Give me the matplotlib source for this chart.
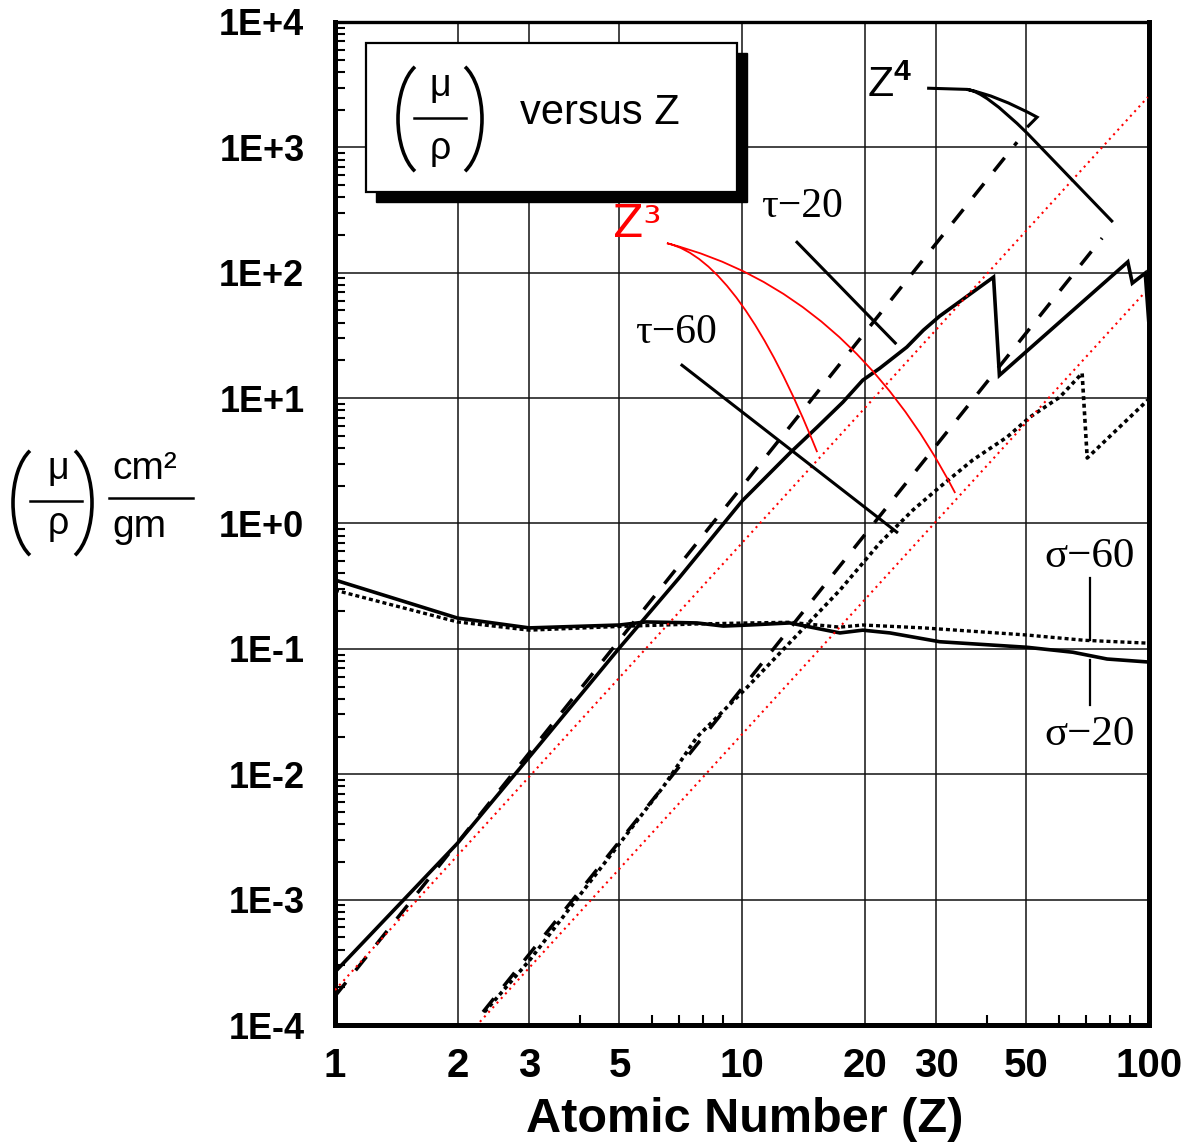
import matplotlib
matplotlib.use("Agg")
import matplotlib.pyplot as plt
import numpy as np
from matplotlib.patches import Rectangle, PathPatch, Arc
from matplotlib.path import Path
from matplotlib.lines import Line2D
from matplotlib.ticker import FixedLocator, FixedFormatter, LogLocator, NullFormatter

plt.rcParams['font.family'] = ['Liberation Sans', 'DejaVu Sans']
plt.rcParams['mathtext.fontset'] = 'custom'
plt.rcParams['mathtext.rm'] = 'Liberation Sans'
plt.rcParams['mathtext.it'] = 'Liberation Sans:italic'
plt.rcParams['mathtext.bf'] = 'Liberation Sans:bold'

# ---------------- data ----------------
# photoelectric, 20 keV (solid)
tau20_Z = [1, 2, 3, 4.4, 5, 7, 10, 13.1, 15.3, 17.7, 19.8, 21.8, 25.4, 27.9, 30.6,
           41.5, 42.9, 88.7, 91.0, 97.9, 99.8]
tau20_y = [2.65e-4, 2.82e-3, 1.37e-2, 6.17e-2, 0.102, 0.367, 1.51, 3.64, 5.87, 9.29,
           13.9, 17.3, 25.5, 34.8, 45.1, 92.3, 15.2, 122, 82.6, 99.3, 41.9]

# photoelectric, 60 keV (dotted)
tau60_Z = [2.33, 3.01, 3.63, 5.01, 6.40, 7.75, 10.3, 13.1, 17.4, 21.8, 26.3, 30.6,
           36.9, 44.8, 51.0, 60.4, 68.5, 70.5, 99.3]
tau60_y = [1.27e-4, 3.30e-4, 7.26e-4, 2.82e-3, 7.91e-3, 1.98e-2, 4.95e-2, 0.112,
           0.294, 0.698, 1.28, 1.95, 3.21, 4.89, 7.06, 10.2, 15.8, 3.33, 9.64]

# scattering, 20 keV (solid)
sig20_Z = [1, 2, 3, 5, 5.8, 7.75, 9, 10.4, 13.1, 17.4, 19.8, 23.1, 30.6, 50.1, 65.0, 78.9, 100]
sig20_y = [0.354, 0.176, 0.147, 0.155, 0.164, 0.161, 0.152, 0.155, 0.161, 0.134,
           0.141, 0.134, 0.114, 0.103, 0.094, 0.083, 0.0785]

# scattering, 60 keV (dotted)
sig60_Z = [1, 2, 3, 5, 7.75, 10.4, 13.1, 17.4, 19.8, 27.9, 50.1, 69.5, 100]
sig60_y = [0.294, 0.164, 0.141, 0.151, 0.158, 0.161, 0.163, 0.149, 0.155, 0.147,
           0.129, 0.117, 0.111]

# Z^4 reference lines (dashed)
z4a_Z = [1.0, 47.4]
z4a_y = [1.7e-4, 1100]
z4b_Z = [2.31, 76.7]
z4b_y = [1.27e-4, 189]

# red dotted guide lines
red1_Z = [1.0, 99.3]
red1_y = [1.9e-4, 2512]
red2_Z = [2.27, 97.8]
red2_y = [1.06e-4, 70]

x_ticks = [1, 2, 3, 5, 10, 20, 30, 50, 100]
x_ticklabels = ['1', '2', '3', '5', '10', '20', '30', '50', '100']
x_minor = [4, 6, 7, 8, 9, 40, 60, 70, 80, 90]
y_ticks = [1e-4, 1e-3, 1e-2, 1e-1, 1e0, 1e1, 1e2, 1e3, 1e4]
y_ticklabels = ['1E-4', '1E-3', '1E-2', '1E-1', '1E+0', '1E+1', '1E+2', '1E+3', '1E+4']

# ---------------- figure ----------------
W, H = 1194, 1145
fig = plt.figure(figsize=(W / 100, H / 100), dpi=100)
fig.patch.set_facecolor('white')


def fp(px, py):
    """figure-pixel position -> figure fraction (layout helper for labels)"""
    return px / W, 1 - py / H


ax = fig.add_axes([0.2806, 0.1048, 0.6817, 0.876])
ax.set_xscale('log')
ax.set_yscale('log')
ax.set_xlim(1, 100)
ax.set_ylim(1e-4, 1e4)
ax.set_axisbelow(True)

ax.xaxis.set_major_locator(FixedLocator(x_ticks))
ax.xaxis.set_major_formatter(FixedFormatter(x_ticklabels))
ax.xaxis.set_minor_locator(FixedLocator(x_minor))
ax.xaxis.set_minor_formatter(NullFormatter())
ax.yaxis.set_major_locator(FixedLocator(y_ticks))
ax.yaxis.set_major_formatter(FixedFormatter(y_ticklabels))
ax.yaxis.set_minor_locator(LogLocator(base=10, subs=np.arange(2, 10)))
ax.yaxis.set_minor_formatter(NullFormatter())

ax.grid(True, which='major', color='#111111', lw=1.1)
ax.tick_params(which='major', length=0)
ax.tick_params(axis='y', which='major', pad=22)
ax.tick_params(axis='x', which='major', pad=16)
ax.tick_params(which='minor', direction='in', length=7, width=1.5, color='black')
ax.tick_params(axis='y', which='minor', right=False)
ax.tick_params(axis='x', which='minor', top=False)

for lab in ax.get_yticklabels():
    lab.set_fontfamily(['Liberation Sans', 'DejaVu Sans'])
    lab.set_fontweight('bold')
    lab.set_fontsize(26)
for lab in ax.get_xticklabels():
    lab.set_fontfamily(['Liberation Sans', 'DejaVu Sans'])
    lab.set_fontweight('bold')
    lab.set_fontsize(29)

for side in ['left', 'bottom', 'right']:
    ax.spines[side].set_linewidth(3.6)
ax.spines['top'].set_linewidth(2.4)

# curves
ax.plot(tau20_Z, tau20_y, color='black', lw=2.6, solid_joinstyle='miter', zorder=4)
ax.plot(tau60_Z, tau60_y, color='black', lw=2.6, ls=(0, (1.1, 1.0)), zorder=4)
ax.plot(sig20_Z, sig20_y, color='black', lw=2.6, zorder=4)
ax.plot(sig60_Z, sig60_y, color='black', lw=2.4, ls=(0, (1.2, 0.9)), zorder=4)
ax.plot(z4a_Z, z4a_y, color='black', lw=2.5, ls=(0, (5, 4.5)), zorder=3)
ax.plot(z4b_Z, z4b_y, color='black', lw=2.5, ls=(0, (5, 4.5)), zorder=3)
ax.plot(red1_Z, red1_y, color='red', lw=1.5, ls=(0, (1.0, 2.0)), zorder=5)
ax.plot(red2_Z, red2_y, color='red', lw=1.5, ls=(0, (1.0, 2.0)), zorder=5)

# ---------------- annotations ----------------
serif = ['Liberation Serif', 'DejaVu Serif']
ax.text(14.04, 333, 'τ\u221220', fontsize=30, family=serif, ha='center', va='center', zorder=6)
ax.text(6.88, 33.0, 'τ\u221260', fontsize=30, family=serif, ha='center', va='center', zorder=6)
ax.text(71.4, 0.539, 'σ\u221260', fontsize=31, family=serif, ha='center', va='center', zorder=6)
ax.text(71.4, 0.0206, 'σ\u221220', fontsize=31, family=serif, ha='center', va='center', zorder=6)

ax.plot([13.65, 23.8], [175, 27.5], color='black', lw=2.2, zorder=6)
ax.plot([7.12, 24.0], [18.3, 0.854], color='black', lw=2.2, zorder=6)
ax.plot([71.6, 71.6], [0.367, 0.1175], color='black', lw=1.6, zorder=6)
ax.plot([71.6, 71.6], [0.0357, 0.0815], color='black', lw=1.6, zorder=6)

# Z^4 label and leaders
ax.text(23.1, 3076, r'Z$^{\mathbf{4}}$', fontsize=31, ha='center', va='center', zorder=6)
z4_leader = Path([(28.5, 2965), (35.7, 2900),
                  (42.3, 2606), (53.1, 1741),
                  (50.2, 1449),
                  (35.7, 2900), (39.5, 2806), (50.2, 1297),
                  (81.5, 253.5)],
                 [Path.MOVETO, Path.LINETO,
                  Path.CURVE3, Path.CURVE3,
                  Path.LINETO,
                  Path.MOVETO, Path.CURVE3, Path.CURVE3,
                  Path.LINETO])
ax.add_patch(PathPatch(z4_leader, transform=ax.transData, fill=False,
                       edgecolor='black', lw=2.2, zorder=6))

# Z^3 label and red leaders
ax.text(4.82, 192, 'Z³', fontsize=32, family=['DejaVu Sans'], color='red',
        ha='left', va='baseline', zorder=10)
z3_leader = Path([(6.54, 172), (9.89, 126), (15.3, 3.71),
                  (6.54, 172), (18.4, 72.6), (33.4, 1.75)],
                 [Path.MOVETO, Path.CURVE3, Path.CURVE3,
                  Path.MOVETO, Path.CURVE3, Path.CURVE3])
ax.add_patch(PathPatch(z3_leader, transform=ax.transData, fill=False,
                       edgecolor='red', lw=1.3, zorder=6))

# box with shadow
bx, by, bw, bh = 0.0381, 0.8305, 0.4558, 0.1486
ax.add_patch(Rectangle((bx + 0.0123, by - 0.0100), bw, bh, transform=ax.transAxes,
                       facecolor='black', edgecolor='black', zorder=7))
ax.add_patch(Rectangle((bx, by), bw, bh, transform=ax.transAxes,
                       facecolor='white', edgecolor='black', lw=1.6, zorder=8))


def paren(px, py, left):
    """draw a tall parenthesis as an elliptical arc (figure pixel layout)"""
    rx, ry = 30, 58
    cx = px + rx if left else px - rx
    th = (104, 256) if left else (-76, 76)
    fig.add_artist(Arc(((cx) / 100, (H - py) / 100), 2 * rx / 100, 2 * ry / 100,
                       theta1=th[0], theta2=th[1], transform=fig.dpi_scale_trans,
                       color='black', lw=2.6, zorder=20))


def mu_over_rho(cx, by_mu, by_rho, bar_y, bar_x0, bar_x1, pl, pr, pc, size=27):
    fig.text(*fp(cx, by_mu), 'μ', fontsize=size, ha='center', va='baseline', zorder=20)
    fig.text(*fp(cx, by_rho), 'ρ', fontsize=size, ha='center', va='baseline', zorder=20)
    x0, y0 = fp(bar_x0, bar_y)
    x1, _ = fp(bar_x1, bar_y)
    fig.add_artist(Line2D([x0, x1], [y0, y0], transform=fig.transFigure,
                          color='black', lw=1.8, zorder=20))
    paren(pl, pc, True)
    paren(pr, pc, False)


# (mu/rho) inside the box ; pl/pr = outermost x of each parenthesis
mu_over_rho(440, 96, 159, 118, 414, 466, 398, 482, 119)
fig.text(*fp(600, 113), 'versus Z', fontsize=30, ha='center', va='center', zorder=20)

# y-axis label: (mu/rho) cm^2/gm
mu_over_rho(58, 479, 534, 501, 30, 82, 13, 92, 503)
fig.text(*fp(112, 479), 'cm²', fontsize=28, ha='left', va='baseline', zorder=20)
x0, y0 = fp(109, 498)
x1, _ = fp(193, 498)
fig.add_artist(Line2D([x0, x1], [y0, y0], transform=fig.transFigure,
                      color='black', lw=1.8, zorder=20))
fig.text(*fp(112, 537), 'gm', fontsize=28, ha='left', va='baseline', zorder=20)

# x-axis label
fig.text(*fp(745, 1119), 'Atomic Number (Z)', fontsize=35, fontweight='bold',
         ha='center', va='center')

fig.savefig('out.png', dpi=100, facecolor='white')
